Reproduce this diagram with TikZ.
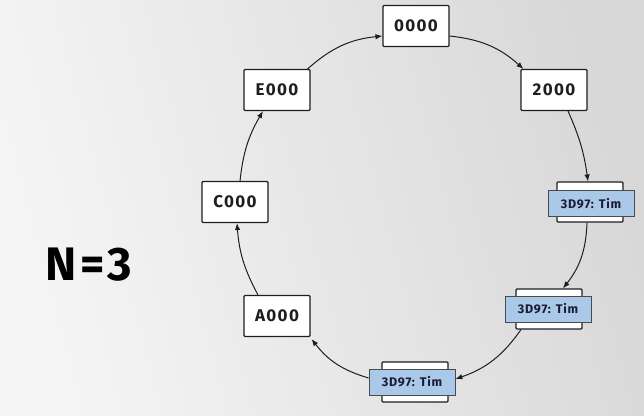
\documentclass[tikz,border=0pt]{standalone}
\usepackage{fontspec}
\setmainfont{Fira Sans}
\newfontfamily\sketchfont[LetterSpace=8]{Fira Sans}
\newfontfamily\bandfont[LetterSpace=6]{Fira Sans}
\usetikzlibrary{arrows.meta,shapes.geometric}
\definecolor{bgA}{HTML}{F5F5F5}
\definecolor{bgB}{HTML}{D8D8D8}
\definecolor{band}{HTML}{AAC8E8}
\definecolor{ink}{HTML}{1E1E1E}
\tikzset{
  keybox/.style={draw=ink, line width=1.1pt, fill=white, rounded corners=1pt,
    minimum width=66pt, minimum height=41pt, inner sep=0pt,
    font=\sketchfont\fontsize{17}{17}\selectfont\bfseries, text=ink},
  emptybox/.style={draw=ink, line width=1.1pt, fill=white, rounded corners=1pt,
    minimum width=66pt, minimum height=40pt, inner sep=0pt},
  bandbox/.style={draw=ink!80, line width=0.8pt, fill=band,
    minimum width=86pt, minimum height=26pt, inner sep=0pt,
    font=\bandfont\fontsize{12.5}{13}\selectfont\bfseries, text=ink!90!blue},
  conn/.style={-{Latex[length=7pt,width=5.5pt]}, draw=ink, line width=1pt, bend left=18},
}
\begin{document}
\begin{tikzpicture}[x=1pt,y=1pt]
\useasboundingbox (0,0) rectangle (644,415);
\shade[left color=bgA, right color=bgB, shading angle=105] (0,0) rectangle (644,415);

\node[keybox] (n0) at (416,389) {0000};
\node[keybox] (n2) at (554,325) {2000};
\node[emptybox] (b1) at (590,213) {};
\node[bandbox] (b1t) at (591,211.5) {3D97: Tim};
\node[emptybox] (b2) at (549,106) {};
\node[bandbox] (b2t) at (548,106) {3D97: Tim};
\node[emptybox] (b3) at (415,33) {};
\node[bandbox] (b3t) at (412,33) {3D97: Tim};
\node[keybox] (a) at (277,99) {A000};
\node[keybox] (c) at (235,213) {C000};
\node[keybox] (e) at (277,325) {E000};

\node[font=\sketchfont\fontsize{47}{47}\selectfont\bfseries, text=black] (nlabel) at (89,150) {N=3};

\draw[conn] ([yshift=-10pt]n0.east) to ([xshift=3pt]n2.north west);
\draw[conn, bend left=8] ([xshift=14pt]n2.south) to ([xshift=-2pt]b1.north);
\draw[conn] ([xshift=-3pt]b1.south) to ([xshift=14pt]b2.north);
\draw[conn] ([xshift=-28pt]b2.south) to ([yshift=3pt]b3t.east);
\draw[conn] ([yshift=4pt]b3t.west) to ([shift={(1pt,-2pt)}]a.south east);
\draw[conn, bend left=12] ([xshift=-19pt]a.north) to ([xshift=2pt]c.south);
\draw[conn, bend left=12] ([xshift=5pt]c.north) to ([xshift=-14pt]e.south);
\draw[conn] ([xshift=-3pt]e.north east) to ([yshift=-10pt]n0.west);
\end{tikzpicture}
\end{document}
